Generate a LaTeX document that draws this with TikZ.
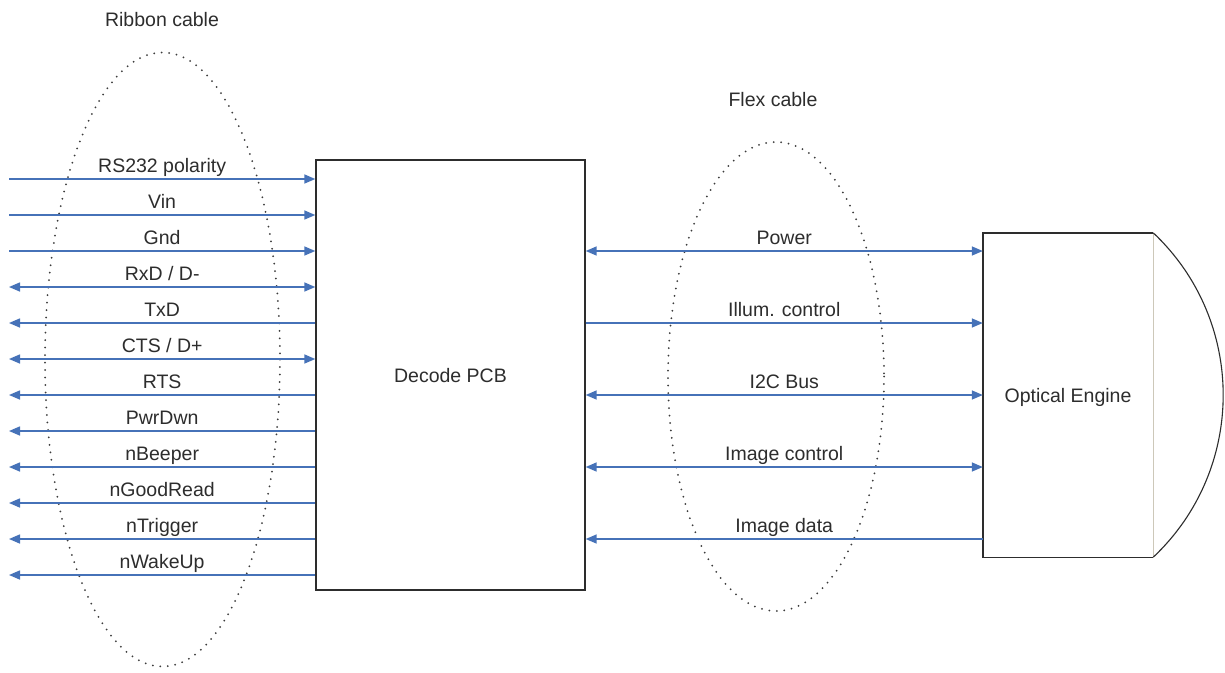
\documentclass[tikz,border=0pt]{standalone}
\usepackage{fontspec}
\setmainfont{Liberation Sans}
\usetikzlibrary{arrows.meta}
\definecolor{wire}{RGB}{70,114,184}
\definecolor{ink}{RGB}{45,45,45}
\definecolor{lightedge}{RGB}{205,200,185}
\definecolor{dotc}{RGB}{60,60,60}
\begin{document}
\begin{tikzpicture}[x=1pt,y=-1pt,
  font=\fontsize{19.5}{23}\selectfont,
  wire/.style={draw=wire, line width=1.5pt},
  toR/.style={-{Triangle[length=11pt,width=9pt]}},
  toL/.style={{Triangle[length=11pt,width=9pt]}-},
  twoway/.style={{Triangle[length=11pt,width=9pt]}-{Triangle[length=11pt,width=9pt]}},
  lab/.style={anchor=base, text=ink, inner sep=0pt, yshift=7pt},
  boxline/.style={draw=ink, line width=1.4pt},
  cable/.style={draw=dotc, line width=2pt, line cap=round, dash pattern=on 0pt off 7.5pt},
  title/.style={anchor=base, text=ink, inner sep=0pt}]
\useasboundingbox[fill=white] (0,0) rectangle (1225,672);

% cable ellipses
\draw[cable] (162.5,359.5) ellipse [x radius=117.5, y radius=307];
\draw[cable] (776,376.5) ellipse [x radius=108, y radius=234.5];
\node[title] (ribbon) at (162,26) {Ribbon cable};
\node[title] (flex) at (773,106.5) {Flex cable};

% boxes
\node[boxline, fill=white, minimum width=269pt, minimum height=430pt,
      text=ink, text height=14pt, text depth=0pt] (pcb) at (450.5,375) {Decode PCB};
\node[minimum width=170pt, minimum height=324pt, inner sep=0pt,
      text=ink, text height=14pt, text depth=0pt] (oe) at (1068,395) {Optical Engine};
\draw[draw=lightedge, line width=1pt] (oe.north east) -- (oe.south east);
\draw[boxline] (oe.north east) -- (oe.north west) -- (oe.south west) -- (oe.south east);
\draw[draw=ink, line width=1.1pt] (oe.north east) .. controls +(93.3,87.9) and +(93.3,-87.9) .. (oe.south east);

% ribbon signals
\coordinate (s1) at (9,179);
\coordinate (s2) at (9,215);
\coordinate (s3) at (9,251);
\coordinate (s4) at (9,287);
\coordinate (s5) at (9,323);
\coordinate (s6) at (9,359);
\coordinate (s7) at (9,395);
\coordinate (s8) at (9,431);
\coordinate (s9) at (9,467);
\coordinate (s10) at (9,503);
\coordinate (s11) at (9,539);
\coordinate (s12) at (9,575);
\draw[wire,toR] (s1) -- (s1 -| pcb.west) node[lab, midway] (t1) {RS232 polarity};
\draw[wire,toR] (s2) -- (s2 -| pcb.west) node[lab, midway] (t2) {Vin};
\draw[wire,toR] (s3) -- (s3 -| pcb.west) node[lab, midway] (t3) {Gnd};
\draw[wire,twoway] (s4) -- (s4 -| pcb.west) node[lab, midway] (t4) {RxD / D-};
\draw[wire,toL] (s5) -- (s5 -| pcb.west) node[lab, midway] (t5) {TxD};
\draw[wire,twoway] (s6) -- (s6 -| pcb.west) node[lab, midway] (t6) {CTS / D+};
\draw[wire,toL] (s7) -- (s7 -| pcb.west) node[lab, midway] (t7) {RTS};
\draw[wire,toL] (s8) -- (s8 -| pcb.west) node[lab, midway] (t8) {PwrDwn};
\draw[wire,toL] (s9) -- (s9 -| pcb.west) node[lab, midway] (t9) {nBeeper};
\draw[wire,toL] (s10) -- (s10 -| pcb.west) node[lab, midway] (t10) {nGoodRead};
\draw[wire,toL] (s11) -- (s11 -| pcb.west) node[lab, midway] (t11) {nTrigger};
\draw[wire,toL] (s12) -- (s12 -| pcb.west) node[lab, midway] (t12) {nWakeUp};

% flex signals
\coordinate (f1) at (0,251);
\coordinate (f2) at (0,323);
\coordinate (f3) at (0,395);
\coordinate (f4) at (0,467);
\coordinate (f5) at (0,539);
\draw[wire,twoway] (f1 -| pcb.east) -- (f1 -| oe.west) node[lab, midway] (u1) {Power};
\draw[wire,toR] (f2 -| pcb.east) -- (f2 -| oe.west) node[lab, midway] (u2) {Illum. control};
\draw[wire,twoway] (f3 -| pcb.east) -- (f3 -| oe.west) node[lab, midway] (u3) {I2C Bus};
\draw[wire,twoway] (f4 -| pcb.east) -- (f4 -| oe.west) node[lab, midway] (u4) {Image control};
\draw[wire,toL] (f5 -| pcb.east) -- (f5 -| oe.west) node[lab, midway] (u5) {Image data};
\end{tikzpicture}
\end{document}
